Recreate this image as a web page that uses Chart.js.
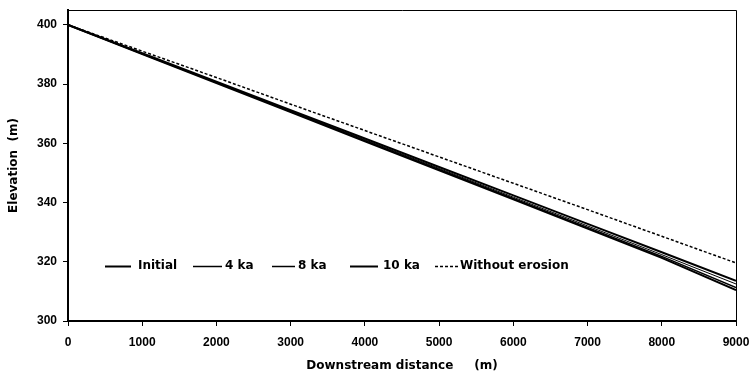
<!DOCTYPE html>
<html><head><meta charset="utf-8">
<script src="https://cdn.jsdelivr.net/npm/chart.js@4/dist/chart.umd.min.js"></script>
<style>html,body{margin:0;padding:0;background:#fff}#wrap{width:754px;height:379px}</style>
</head><body><div id="wrap"><canvas id="c" width="754" height="379"></canvas></div>
<script>
const distance = [0,1000,2000,3000,4000,5000,6000,7000,8000,9000];
const initial = [400,390.4,380.8,371.2,361.6,352.0,342.4,332.8,323.2,313.6];
const ka4 = [400,390.3,380.6,370.9,361.2,351.5,341.8,332.1,322.4,312.5];
const ka8 = [400,390.2,380.5,370.7,360.9,351.2,341.4,331.6,321.8,311.3];
const ka10 = [400,390.1,380.3,370.5,360.7,350.9,341.1,331.2,321.3,310.4];
const withoutErosion = [400,391.1,382.2,373.2,364.3,355.4,346.5,337.6,328.6,319.6];
const seriesLabels = ['Initial','4 ka','8 ka','10 ka','Without erosion'];
const xTicks = [0,1000,2000,3000,4000,5000,6000,7000,8000,9000];
const yTicks = [300,320,340,360,380,400];

const TICKFONT = 'Liberation Sans, Arial, sans-serif';
const TITLEFONT = 'DejaVu Sans, sans-serif';
const styles = [
  {w:2, dash:[]},
  {w:1, dash:[]},
  {w:1.5, dash:[]},
  {w:2, dash:[]},
  {w:1.5, dash:[3,2]}
];
const seriesData = [initial, ka4, ka8, ka10, withoutErosion];
const datasets = seriesData.map((arr,i)=>({
  label: seriesLabels[i],
  data: arr.map((v,j)=>({x:distance[j], y:v})),
  borderColor:'#000', borderWidth:styles[i].w, borderDash:styles[i].dash,
  pointRadius:0, fill:false, tension:0
}));

const framePlugin = {
  id:'frame',
  afterDatasetsDraw(chart){
    const {ctx, chartArea:a} = chart;
    ctx.save();
    ctx.strokeStyle='#000';
    ctx.lineWidth=1;
    ctx.beginPath();
    ctx.moveTo(a.left, a.top+0.5); ctx.lineTo(a.right+0.5, a.top+0.5); ctx.lineTo(a.right+0.5, a.bottom);
    ctx.stroke();
    // legend
    const items = [
      {x1:105,x2:131,tx:138},
      {x1:193,x2:222,tx:225},
      {x1:272,x2:295,tx:298},
      {x1:350,x2:378,tx:383},
      {x1:435,x2:458,tx:460}
    ];
    const ly = 266;
    ctx.font = 'bold 12px '+TITLEFONT;
    ctx.fillStyle='#000';
    ctx.textBaseline='middle';
    chart.data.datasets.forEach((ds,i)=>{
      const it = items[i];
      ctx.lineWidth = Math.max(ds.borderWidth,1.5);
      ctx.setLineDash(ds.borderDash||[]);
      ctx.beginPath(); ctx.moveTo(it.x1, ly+0.5); ctx.lineTo(it.x2, ly+0.5); ctx.stroke();
      ctx.setLineDash([]);
      ctx.fillText(ds.label, it.tx, ly);
    });
    ctx.restore();
  }
};

new Chart(document.getElementById('c'), {
  type:'line',
  data:{datasets},
  options:{
    responsive:false, animation:false,
    layout:{padding:{top:10,right:18,left:0,bottom:0}},
    plugins:{legend:{display:false}, tooltip:{enabled:false}},
    scales:{
      x:{type:'linear', min:0, max:9000,
        afterBuildTicks(s){ s.ticks = xTicks.map(v=>({value:v})); },
        afterFit(s){ s.height = 58; s.paddingLeft = 0; s.paddingRight = 0; },
        border:{color:'#000', width:2},
        grid:{drawOnChartArea:false, tickLength:5, color:'#000', lineWidth:1},
        ticks:{color:'#000', font:{family:TICKFONT, size:12, weight:'bold'}, maxRotation:0, padding:9,
          callback:(v)=>String(v)},
        title:{display:true, text:'Downstream distance     (m)', color:'#000', font:{family:TITLEFONT, size:12, weight:'bold'}, padding:{top:0,bottom:6}}
      },
      y:{type:'linear', min:300, max:405,
        afterBuildTicks(s){ s.ticks = yTicks.map(v=>({value:v})); },
        afterFit(s){ s.width = 68; s.paddingTop = 0; s.paddingBottom = 0; },
        border:{color:'#000', width:2},
        grid:{drawOnChartArea:false, tickLength:5, color:'#000', lineWidth:1},
        ticks:{color:'#000', font:{family:TICKFONT, size:12, weight:'bold'}, padding:6,
          callback:(v)=>String(v)},
        title:{display:true, text:'Elevation  (m)', color:'#000', font:{family:TITLEFONT, size:12, weight:'bold'}, padding:{top:7,bottom:0}}
      }
    }
  },
  plugins:[framePlugin]
});
</script></body></html>
